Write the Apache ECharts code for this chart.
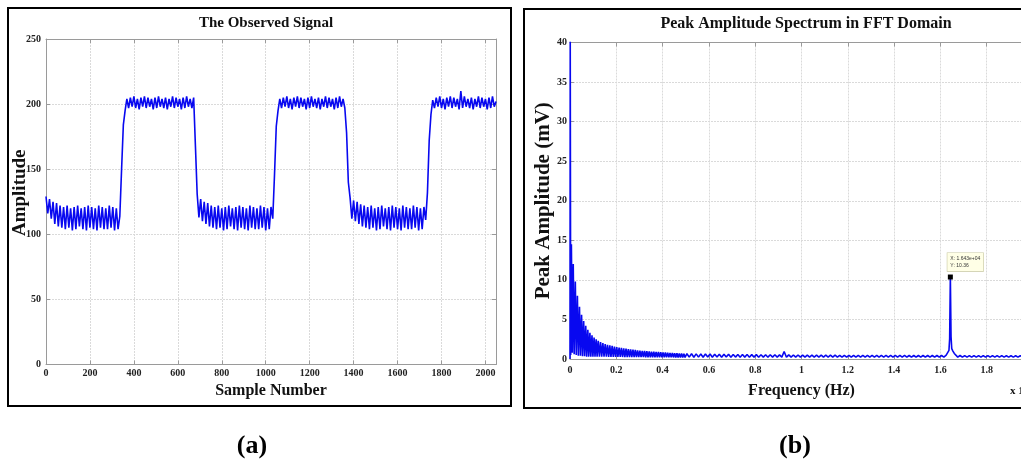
<!DOCTYPE html>
<html><head><meta charset="utf-8">
<script src="https://cdn.jsdelivr.net/npm/echarts@6/dist/echarts.min.js"></script>
<style>html,body{margin:0;padding:0;background:#fff}#c{width:1021px;height:463px}</style>
</head><body><div id="c"></div>
<script>
// ---------- (a) observed signal: one value every SAMPLE_STEP samples ----------
const SAMPLE_STEP = 8;
const signalAmp = [
  129,116,127,112,125,108,124,106,122,105,
  121,104,122,105,120,103,121,104,122,106,
  120,104,121,103,122,105,121,104,120,103,
  122,105,121,104,120,104,122,105,121,103,
  120,104,114,
  150,184,195,204,
  197,205,198,206,197,204,196,205,198,206,
  197,205,198,204,196,205,197,206,198,204,
  197,205,196,204,198,206,197,205,198,204,
  196,205,197,206,198,204,197,205,
  168,131,
  113,127,110,125,108,124,106,122,105,121,
  104,122,105,120,103,121,104,122,106,120,
  104,121,103,122,105,121,104,120,103,122,
  105,121,104,120,104,122,105,121,103,120,
  104,121,
  112,146,183,195,204,
  197,205,198,206,197,204,196,205,198,206,
  197,205,198,204,196,205,197,206,198,204,
  197,205,196,204,198,206,197,205,198,204,
  196,205,197,206,198,204,197,
  178,140,128,
  112,126,110,125,108,123,106,122,105,121,
  104,122,105,120,103,121,104,122,106,120,
  104,121,103,122,105,121,104,120,103,122,
  105,121,104,120,104,122,105,121,103,120,
  104,121,111,
  132,172,192,203,
  197,205,198,206,197,204,196,205,198,206,
  197,205,198,204,196,210,197,206,198,204,
  197,205,196,204,198,206,197,205,198,204,
  196,205,197,206,198,
  202
];

// ---------- (b) spectrum: frequency (x 10^4 Hz) and peak amplitude (mV) ----------
const specFreq = [
  0,0.001,0.003,0.006,0.010,0.014,0.018,0.023,0.027,0.032,
  0.036,0.041,0.045,0.050,0.054,0.059,0.063,0.068,0.072,0.077,
  0.081,0.086,0.090,0.095,0.099,0.104,0.108,0.113,0.117,
  0.122,0.127,0.132,0.137,0.142,0.147,0.152,0.157,0.162,0.167,
  0.172,0.177,0.182,0.187,0.192,0.197,0.202,0.207,0.212,0.217,
  0.222,0.227,0.232,0.237,0.242,0.247,0.252,0.257,0.262,0.267,
  0.272,0.277,0.282,0.287,0.292,0.297,0.302,0.307,0.312,0.317,
  0.322,0.327,0.332,0.337,0.342,0.347,0.352,0.357,0.362,0.367,
  0.372,0.377,0.382,0.387,0.392,0.397,0.402,0.407,0.412,0.417,
  0.422,0.427,0.432,0.437,0.442,0.447,0.452,0.457,0.462,0.467,
  0.472,0.477,0.482,0.487,0.492,0.497,
  0.505,0.515,0.525,0.535,0.545,0.555,0.565,0.575,0.585,0.595,
  0.605,0.615,0.625,0.635,0.645,0.655,0.665,0.675,0.685,0.695,
  0.705,0.715,0.725,0.735,0.745,0.755,0.765,0.775,0.785,0.795,
  0.805,0.815,0.825,0.835,0.845,0.855,0.865,0.875,0.885,0.895,
  0.905,0.915,0.925,0.935,0.945,0.955,0.965,0.975,0.985,0.995,
  1.005,1.015,1.025,1.035,1.045,1.055,1.065,1.075,1.085,1.095,
  1.105,1.115,1.125,1.135,1.145,1.155,1.165,1.175,1.185,1.195,
  1.205,1.215,1.225,1.235,1.245,1.255,1.265,1.275,1.285,1.295,
  1.305,1.315,1.325,1.335,1.345,1.355,1.365,1.375,1.385,1.395,
  1.405,1.415,1.425,1.435,1.445,1.455,1.465,1.475,1.485,1.495,
  1.505,1.515,1.525,1.535,1.545,1.555,1.565,1.575,1.585,1.595,
  1.605,1.615,1.625,1.632,1.637,1.640,1.643,1.646,1.649,1.654,1.660,1.665,1.675,1.685,1.695,
  1.705,1.715,1.725,1.735,1.745,1.755,1.765,1.775,1.785,1.795,
  1.805,1.815,1.825,1.835,1.845,1.855,1.865,1.875,1.885,1.895,
  1.905,1.915,1.925,1.935,1.945,1.955,1.965,1.975,1.985,1.995
];
const specAmp = [
  0,41,0.5,14.5,0.8,12.0,0.6,9.8,0.5,8.0,
  0.4,6.6,0.4,5.6,0.35,4.8,0.35,4.2,0.3,3.7,
  0.3,3.3,0.3,3.0,0.3,2.7,0.3,2.5,0.3,
  2.3,0.3,2.15,0.3,2.0,0.28,1.9,0.28,1.8,0.27,
  1.72,0.27,1.65,0.26,1.58,0.26,1.52,0.25,1.45,0.25,
  1.4,0.25,1.35,0.25,1.3,0.24,1.26,0.24,1.22,0.24,
  1.18,0.24,1.14,0.23,1.1,0.23,1.07,0.23,1.04,0.23,
  1.01,0.22,0.98,0.22,0.96,0.22,0.94,0.22,0.92,0.22,
  0.9,0.22,0.88,0.21,0.86,0.21,0.84,0.21,0.82,0.21,
  0.8,0.21,0.78,0.21,0.76,0.2,0.74,0.2,0.72,0.2,
  0.7,0.2,0.69,0.2,0.68,0.2,
  0.67,0.24,0.66,0.23,0.65,0.24,0.64,0.23,0.63,0.24,
  0.62,0.23,0.61,0.24,0.6,0.23,0.6,0.24,0.59,0.23,
  0.58,0.24,0.57,0.23,0.57,0.24,0.56,0.23,0.55,0.24,
  0.55,0.23,0.54,0.24,0.54,0.23,0.53,0.24,0.53,0.23,
  0.52,0.24,0.95,0.23,0.52,0.24,0.51,0.23,0.51,0.24,
  0.5,0.23,0.5,0.24,0.49,0.23,0.49,0.24,0.49,0.23,
  0.48,0.24,0.48,0.23,0.48,0.24,0.47,0.23,0.47,0.24,
  0.47,0.23,0.47,0.24,0.46,0.23,0.46,0.24,0.46,0.23,
  0.46,0.24,0.46,0.23,0.45,0.24,0.45,0.23,0.45,0.24,
  0.45,0.23,0.45,0.24,0.45,0.23,0.44,0.24,0.44,0.23,
  0.44,0.24,0.44,0.23,0.44,0.24,0.44,0.23,0.44,0.24,
  0.44,0.24,0.5,0.75,1.1,2.6,10.36,2.8,1.3,1.0,0.7,0.45,0.24,0.44,0.23,
  0.43,0.24,0.43,0.23,0.43,0.24,0.43,0.23,0.43,0.24,
  0.42,0.23,0.42,0.24,0.42,0.23,0.42,0.24,0.41,0.23,
  0.41,0.24,0.41,0.23,0.41,0.24,0.41,0.23,0.4,0.24
];
const peakTip = { freq: 1.643, amp: 10.36, text: 'X: 1.643e+04\nY: 10.36' };

// ---------- drawing ----------
const SERIF = '"Liberation Serif", "Times New Roman", serif';
const BOX = '#9a9a9a';
const GRIDLINE = { show: true, lineStyle: { color: '#dadada', type: [2, 1], width: 1 } };
const tickLbl = (margin) => ({ margin, fontFamily: SERIF, fontWeight: 'bold', fontSize: 10, color: '#222',
  formatter: (v) => String(+v.toFixed(4)) });
const nameStyle = (size) => ({ fontFamily: SERIF, fontWeight: 'bold', fontSize: size, color: '#111' });
const line = { onZero: false, lineStyle: { color: BOX, width: 1 } };
const tick = { inside: true, length: 4, lineStyle: { color: BOX } };

function mirrorAxis(gridIndex, pos, min, max, interval) {
  return { gridIndex, type: 'value', position: pos, min, max, interval,
    axisLine: line, axisTick: tick, axisLabel: { show: false }, splitLine: { show: false } };
}

const signalData = signalAmp.map((v, i) => [i * SAMPLE_STEP, v]);
const specData = specFreq.map((f, i) => [f, specAmp[i]]);

const chart = echarts.init(document.getElementById('c'), null, { renderer: 'canvas' });
chart.setOption({
  animation: false,
  backgroundColor: '#fff',
  title: [
    { text: 'The Observed Signal', left: 261, top: 11, textAlign: 'center',
      textStyle: nameStyle(15) },
    { text: 'Peak Amplitude Spectrum in FFT Domain', left: 801, top: 11, textAlign: 'center',
      textStyle: nameStyle(16) }
  ],
  grid: [
    { left: 46, top: 39, width: 450, height: 325.5, outerBoundsMode: 'none', containLabel: false },
    { left: 570, top: 42.5, width: 463, height: 316.5, outerBoundsMode: 'none', containLabel: false }
  ],
  xAxis: [
    { gridIndex: 0, type: 'value', position: 'bottom', min: 0, max: 2048, interval: 200,
      axisLine: line, axisTick: tick, axisLabel: Object.assign(tickLbl(4), { showMaxLabel: false }),
      splitLine: GRIDLINE, nameMoveOverlap: false,
      name: 'Sample Number', nameLocation: 'middle', nameGap: 18, nameTextStyle: nameStyle(16) },
    mirrorAxis(0, 'top', 0, 2048, 200),
    { gridIndex: 1, type: 'value', position: 'bottom', min: 0, max: 2, interval: 0.2,
      axisLine: line, axisTick: tick, axisLabel: tickLbl(6),
      splitLine: GRIDLINE, nameMoveOverlap: false,
      name: 'Frequency (Hz)', nameLocation: 'middle', nameGap: 24, nameTextStyle: nameStyle(16) },
    mirrorAxis(1, 'top', 0, 2, 0.2)
  ],
  yAxis: [
    { gridIndex: 0, type: 'value', position: 'left', min: 0, max: 250, interval: 50,
      axisLine: line, axisTick: tick, axisLabel: tickLbl(5),
      splitLine: GRIDLINE, nameMoveOverlap: false,
      name: 'Amplitude', nameLocation: 'middle', nameGap: 16,
      nameTextStyle: Object.assign({ padding: [0, 0, 0, 18] }, nameStyle(19)) },
    mirrorAxis(0, 'right', 0, 250, 50),
    { gridIndex: 1, type: 'value', position: 'left', min: 0, max: 40, interval: 5,
      axisLine: line, axisTick: tick, axisLabel: tickLbl(3),
      splitLine: GRIDLINE, nameMoveOverlap: false,
      name: 'Peak Amplitude (mV)', nameLocation: 'middle', nameGap: 16, nameTextStyle: nameStyle(21) },
    mirrorAxis(1, 'right', 0, 40, 5)
  ],
  series: [
    { type: 'line', xAxisIndex: 0, yAxisIndex: 0, data: signalData, showSymbol: false, symbol: 'none',
      lineStyle: { color: '#0808f0', width: 1.6 }, silent: true },
    { type: 'line', xAxisIndex: 2, yAxisIndex: 2, data: specData, showSymbol: false, symbol: 'none',
      lineStyle: { color: '#0808f0', width: 1.6 }, silent: true,
      markPoint: {
        symbol: 'rect', symbolSize: 5, itemStyle: { color: '#000' }, silent: true,
        label: { show: true, position: [-0.5, -21.5], formatter: peakTip.text,
          fontFamily: '"Liberation Sans", sans-serif', fontSize: 5, lineHeight: 7, color: '#333',
          backgroundColor: '#ffffe6', borderColor: '#c8c8a0', borderWidth: 0.6, padding: [2, 3] },
        data: [{ coord: [peakTip.freq, peakTip.amp] }]
      } }
  ],
  graphic: [
    { type: 'rect', silent: true, z: 100, shape: { x: 8, y: 8, width: 503, height: 398 },
      style: { fill: 'none', stroke: '#000', lineWidth: 2 } },
    { type: 'rect', silent: true, z: 100, shape: { x: 524, y: 9, width: 520, height: 399 },
      style: { fill: 'none', stroke: '#000', lineWidth: 2 } },
    { type: 'text', silent: true, x: 252, y: 446,
      style: { text: '(a)', font: 'bold 26px "Liberation Serif"', fill: '#000',
        align: 'center', verticalAlign: 'middle', textAlign: 'center', textVerticalAlign: 'middle' } },
    { type: 'text', silent: true, x: 795, y: 446,
      style: { text: '(b)', font: 'bold 26px "Liberation Serif"', fill: '#000',
        align: 'center', verticalAlign: 'middle', textAlign: 'center', textVerticalAlign: 'middle' } },
    { type: 'text', silent: true, x: 1010, y: 391,
      style: { text: 'x 10⁴', font: 'bold 11px "Liberation Serif"', fill: '#111',
        align: 'left', verticalAlign: 'middle', textAlign: 'left', textVerticalAlign: 'middle' } }
  ]
});
</script></body></html>
